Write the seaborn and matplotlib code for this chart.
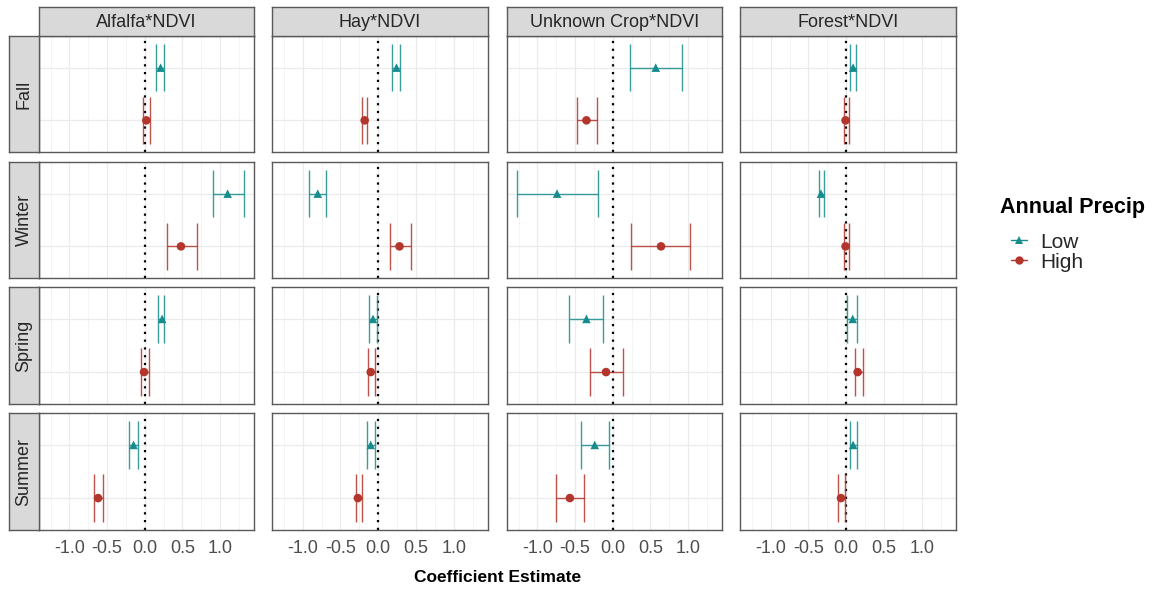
import numpy as np
import pandas as pd
import matplotlib
matplotlib.use("Agg")
import matplotlib.pyplot as plt
import seaborn as sns
from matplotlib.lines import Line2D

# ---- data -------------------------------------------------------------
crops = ["Alfalfa*NDVI", "Hay*NDVI", "Unknown Crop*NDVI", "Forest*NDVI"]
seasons = ["Fall", "Winter", "Spring", "Summer"]
precip_levels = ["Low", "High"]

# estimates ordered crop-major, then season (Fall, Winter, Spring, Summer)
low_est = [0.21, 1.10, 0.23, -0.15,
           0.24, -0.80, -0.07, -0.10,
           0.57, -0.74, -0.35, -0.24,
           0.09, -0.335, 0.085, 0.09]
low_lower = [0.15, 0.90, 0.18, -0.21,
             0.18, -0.92, -0.12, -0.15,
             0.23, -1.275, -0.58, -0.42,
             0.045, -0.36, 0.015, 0.045]
low_upper = [0.25, 1.32, 0.26, -0.09,
             0.29, -0.69, -0.02, -0.045,
             0.92, -0.20, -0.135, -0.05,
             0.13, -0.30, 0.14, 0.14]

high_est = [0.02, 0.48, -0.01, -0.62,
            -0.18, 0.28, -0.10, -0.27,
            -0.35, 0.64, -0.09, -0.57,
            -0.01, -0.01, 0.15, -0.07]
high_lower = [-0.02, 0.30, -0.045, -0.67,
              -0.22, 0.16, -0.135, -0.30,
              -0.47, 0.24, -0.30, -0.755,
              -0.025, -0.025, 0.11, -0.115]
high_upper = [0.07, 0.69, 0.05, -0.55,
              -0.15, 0.43, -0.05, -0.21,
              -0.21, 1.03, 0.14, -0.38,
              0.03, 0.03, 0.22, -0.02]

x_ticks = [-1.0, -0.5, 0.0, 0.5, 1.0]
x_tick_labels = ["-1.0", "-0.5", "0.0", "0.5", "1.0"]

colors = {"Low": "#178C8C", "High": "#B3352B"}
markers = {"Low": "^", "High": "o"}

rows = []
for i, crop in enumerate(crops):
    for j, season in enumerate(seasons):
        k = i * len(seasons) + j
        rows.append(dict(crop=crop, season=season, precip="Low",
                         est=low_est[k], lo=low_lower[k], hi=low_upper[k]))
        rows.append(dict(crop=crop, season=season, precip="High",
                         est=high_est[k], lo=high_lower[k], hi=high_upper[k]))
df = pd.DataFrame(rows)
df["ypos"] = df["precip"].map({p: n for n, p in enumerate(precip_levels)})

# ---- styling ----------------------------------------------------------
sns.set_theme(style="white")
plt.rcParams["font.family"] = ["Liberation Sans", "DejaVu Sans"]

W, H = 1156, 593
fig = plt.figure(figsize=(W / 100, H / 100), dpi=100)


def frac(x0, y0, x1, y1):
    return [x0 / W, 1 - y1 / H, (x1 - x0) / W, (y1 - y0) / H]


col_px = [(39, 254), (272, 488), (507, 722), (740, 956)]
row_px = [(36, 152), (162, 278), (287, 404), (413, 530)]
strip_top = (7, 36)
strip_left = (9, 39)

border = "#595959"
strip_fill = "#D9D9D9"

span_lo = df["lo"].min()
span_hi = df["hi"].max()
pad = 0.05 * (span_hi - span_lo)
xlim = (span_lo - pad, span_hi + pad)
minor_ticks = [-1.25, -0.75, -0.25, 0.25, 0.75, 1.25]
cap_half = 0.45

for i, crop in enumerate(crops):
    for j, season in enumerate(seasons):
        x0, x1 = col_px[i]
        y0, y1 = row_px[j]
        ax = fig.add_axes(frac(x0, y0, x1, y1))
        sub = df[(df.crop == crop) & (df.season == season)]

        ax.set_xlim(*xlim)
        ax.set_ylim(len(precip_levels) - 0.4, -0.6)
        ax.set_xticks(x_ticks)
        ax.set_xticks(minor_ticks, minor=True)
        ax.set_yticks(range(len(precip_levels)))
        ax.set_yticklabels([])
        ax.grid(True, which="major", color="#EBEBEB", lw=0.9)
        ax.grid(True, which="minor", axis="x", color="#F2F2F2", lw=0.6)
        ax.set_axisbelow(True)
        ax.tick_params(axis="y", length=0)
        ax.tick_params(axis="x", which="minor", length=0)
        if j == len(seasons) - 1:
            ax.set_xticklabels(x_tick_labels, fontsize=13, color="#4D4D4D")
            ax.tick_params(axis="x", which="major", length=3, color="#333333",
                           pad=4)
        else:
            ax.set_xticklabels([])
            ax.tick_params(axis="x", which="major", length=0)
        for sp in ax.spines.values():
            sp.set_color(border)
            sp.set_linewidth(1.0)

        ax.axvline(0, color="black", lw=1.6, ls=(0, (1, 2.5)), zorder=2)

        for _, r in sub.iterrows():
            c = colors[r.precip]
            ax.hlines(r.ypos, r.lo, r.hi, color=c, lw=1.0, alpha=0.85, zorder=3)
            ax.vlines([r.lo, r.hi], r.ypos - cap_half, r.ypos + cap_half,
                      color=c, lw=1.0, alpha=0.85, zorder=3)

        sns.scatterplot(data=sub, x="est", y="ypos", hue="precip",
                        style="precip", palette=colors, markers=markers,
                        hue_order=precip_levels, style_order=precip_levels,
                        s=38, linewidth=0, legend=False, ax=ax, zorder=4)
        ax.set_xlabel("")
        ax.set_ylabel("")

# facet strips across the top
for i, crop in enumerate(crops):
    x0, x1 = col_px[i]
    sax = fig.add_axes(frac(x0, strip_top[0], x1, strip_top[1]))
    sax.set_facecolor(strip_fill)
    sax.set_xticks([])
    sax.set_yticks([])
    for sp in sax.spines.values():
        sp.set_color(border)
        sp.set_linewidth(1.0)
    sax.text(0.5, 0.48, crop, ha="center", va="center", fontsize=13,
             color="#262626", transform=sax.transAxes)

# season strips on the left
for j, season in enumerate(seasons):
    y0, y1 = row_px[j]
    sax = fig.add_axes(frac(strip_left[0], y0, strip_left[1], y1))
    sax.set_facecolor(strip_fill)
    sax.set_xticks([])
    sax.set_yticks([])
    for sp in sax.spines.values():
        sp.set_color(border)
        sp.set_linewidth(1.0)
    sax.text(0.5, 0.5, season, ha="center", va="center", fontsize=13,
             rotation=90, color="#262626", transform=sax.transAxes)

fig.text((col_px[0][0] + col_px[-1][1]) / 2 / W, 1 - 578 / H,
         "Coefficient Estimate", ha="center", va="center",
         fontsize=12.5, fontweight="bold", color="black")

# legend: bold title, then the two precipitation levels
fig.text(1000 / W, 1 - 207 / H, "Annual Precip", ha="left", va="center",
         fontsize=15.5, fontweight="bold", color="black")
handles = [Line2D([0], [0], color=colors[p], marker=markers[p], markersize=6,
                  lw=1.0, markeredgewidth=0) for p in precip_levels]
fig.legend(handles, precip_levels, loc="upper left",
           bbox_to_anchor=(996 / W, 1 - 218 / H),
           frameon=False, fontsize=15, handlelength=0.8, handletextpad=0.6,
           labelspacing=0.05, borderpad=0.2)

fig.savefig("out.png", dpi=100)
